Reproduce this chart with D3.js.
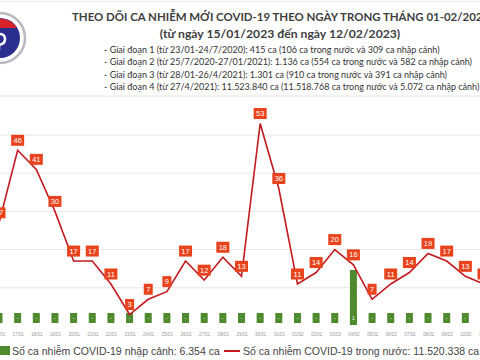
<!DOCTYPE html>
<html>
<head>
<meta charset="utf-8">
<script src="https://cdn.jsdelivr.net/npm/d3@7"></script>
<style>
  body { margin: 0; background: #fff; }
  svg { display: block; }
</style>
</head>
<body>
<div id="chart"></div>
<script>
const dates = ["16/01","17/01","18/01","19/01","20/01","21/01","22/01","23/01","24/01","25/01",
  "26/01","27/01","28/01","29/01","30/01","31/01","01/02","02/02","03/02","04/02",
  "05/02","06/02","07/02","08/02","09/02","10/02","11/02"];
const domestic = [27,46,41,30,17,17,11,3,7,9,17,12,18,13,53,36,11,14,20,16,7,11,14,19,17,13,11];
const imported = [0,0,0,0,0,0,0,0,0,0,0,0,0,0,0,0,0,0,0,1,0,0,0,0,0,0,0];
const gridTicks = [10,20,30,40,50];

const titleLines = [
  "THEO DÕI CA NHIỄM MỚI COVID-19 THEO NGÀY TRONG THÁNG 01-02/2023",
  "(từ ngày 15/01/2023 đến ngày 12/02/2023)"
];
const stageLines = [
  "- Giai đoạn 1 (từ 23/01-24/7/2020): 415 ca (106 ca trong nước và 309 ca nhập cảnh)",
  "- Giai đoạn 2 (từ 25/7/2020-27/01/2021): 1.136 ca (554 ca trong nước và 582 ca nhập cảnh)",
  "- Giai đoạn 3 (từ 28/01-26/4/2021): 1.301 ca (910 ca trong nước và 391 ca nhập cảnh)",
  "- Giai đoạn 4 (từ 27/4/2021): 11.523.840 ca (11.518.768 ca trong nước và 5.072 ca nhập cảnh)"
];
const legendLabels = [
  "Số ca nhiễm COVID-19 nhập cảnh: 6.354 ca",
  "Số ca nhiễm COVID-19 trong nước: 11.520.338 ca"
];

const width = 480, height = 360;
const red = "#c21a1f", tag = "#e8431c", green = "#4f8a2f";

const svg = d3.select("#chart").append("svg")
  .attr("width", width).attr("height", height);

// header card
svg.append("line").attr("x1", 0).attr("x2", width).attr("y1", 96).attr("y2", 96)
  .attr("stroke", "#e4e4e4");
svg.append("line").attr("x1", 0).attr("x2", width).attr("y1", 1.5).attr("y2", 1.5)
  .attr("stroke", "#eeeeee");

// logo (partly cut at the left edge)
const logo = svg.append("g").attr("transform", "translate(0,38)");
logo.append("circle").attr("r", 25).attr("fill", "#fff").attr("stroke", "#b8b8c0").attr("stroke-width", 2.5);
logo.append("circle").attr("r", 20).attr("fill", "#2a2f8f");
logo.append("path").attr("d", "M-17,-10 A20,20 0 0 1 17,-10 Z").attr("fill", "#d9232a");
logo.append("path").attr("d", "M-1,-4 q6,0 6,5 q0,5 -6,6 M-1,7 l0,5").attr("fill", "none")
  .attr("stroke", "#fff").attr("stroke-width", 2.5);

svg.append("text").attr("x", 72).attr("y", 21)
  .attr("font-family", "Lato, sans-serif").attr("font-weight", 700).attr("font-size", 11.45)
  .attr("fill", "#404040").text(titleLines[0]);
svg.append("text").attr("x", 280).attr("y", 38).attr("text-anchor", "middle")
  .attr("font-family", "Lato, sans-serif").attr("font-weight", 700).attr("font-size", 12.2)
  .attr("fill", "#404040").text(titleLines[1]);
svg.selectAll(".stage").data(stageLines).join("text")
  .attr("class", "stage")
  .attr("x", 104).attr("y", (d, i) => 53 + i * 12.3)
  .attr("font-family", "Lato, sans-serif").attr("font-size", 9)
  .attr("fill", "#333").text(d => d);

// scales
const x = d3.scalePoint().domain(dates).range([-1, 484]);
const y = d3.scaleLinear().domain([0, 50]).range([326, 135]);
const yBar = d3.scaleLinear().domain([0, 1]).range([325, 270]);

svg.selectAll(".grid").data(gridTicks).join("line")
  .attr("class", "grid")
  .attr("x1", 0).attr("x2", width)
  .attr("y1", d => y(d)).attr("y2", d => y(d))
  .attr("stroke", "#e6e6e6");

// bars (imported cases)
const barW = 7;
svg.selectAll(".bar").data(imported).join("rect")
  .attr("class", "bar")
  .attr("x", (d, i) => x(dates[i]) - barW / 2)
  .attr("y", d => yBar(d))
  .attr("width", barW)
  .attr("height", d => yBar(0) - yBar(d))
  .attr("fill", green);

const barTags = svg.selectAll(".btag").data(imported).join("g")
  .attr("class", "btag")
  .attr("transform", (d, i) => `translate(${x(dates[i])},318)`);
barTags.append("rect").attr("x", -3.5).attr("y", -5).attr("width", 7).attr("height", 10)
  .attr("fill", green);
barTags.append("text").attr("text-anchor", "middle").attr("y", 2)
  .attr("font-family", "Liberation Sans, Arial, sans-serif").attr("font-size", 5)
  .attr("fill", "#fff").text(d => d === 0 ? "-" : d);

// date axis
const xAxis = svg.append("g").attr("transform", "translate(0,330)")
  .call(d3.axisBottom(x).tickSize(0).tickPadding(3));
xAxis.select(".domain").remove();
xAxis.selectAll("text").attr("font-size", 4.5).attr("fill", "#999")
  .attr("font-family", "Liberation Sans, Arial, sans-serif");

// line (domestic cases)
const line = d3.line().x((d, i) => x(dates[i])).y(d => y(d));
svg.append("path").datum(domestic)
  .attr("d", line).attr("fill", "none")
  .attr("stroke", red).attr("stroke-width", 1.6);

const tags = svg.selectAll(".tag").data(domestic).join("g")
  .attr("class", "tag")
  .attr("transform", (d, i) => `translate(${x(dates[i])},${y(d) - 10})`);
tags.append("rect")
  .attr("x", d => d >= 10 ? -6.5 : -4.5).attr("y", -5.5)
  .attr("width", d => d >= 10 ? 13 : 9).attr("height", 11)
  .attr("fill", tag);
tags.append("text").attr("text-anchor", "middle").attr("y", 2.6)
  .attr("font-family", "Liberation Sans, Arial, sans-serif").attr("font-size", 7.5)
  .attr("fill", "#fff").text(d => d);

// legend
const leg = svg.append("g").attr("font-family", "Liberation Sans, Arial, sans-serif")
  .attr("font-size", 10.5).attr("fill", "#444");
leg.append("rect").attr("x", 0).attr("y", 346).attr("width", 10).attr("height", 9).attr("fill", green);
leg.append("text").attr("x", 12).attr("y", 355).text(legendLabels[0]);
leg.append("line").attr("x1", 224).attr("x2", 240).attr("y1", 351).attr("y2", 351)
  .attr("stroke", red).attr("stroke-width", 2);
leg.append("text").attr("x", 243).attr("y", 355).text(legendLabels[1]);
</script>
</body>
</html>
